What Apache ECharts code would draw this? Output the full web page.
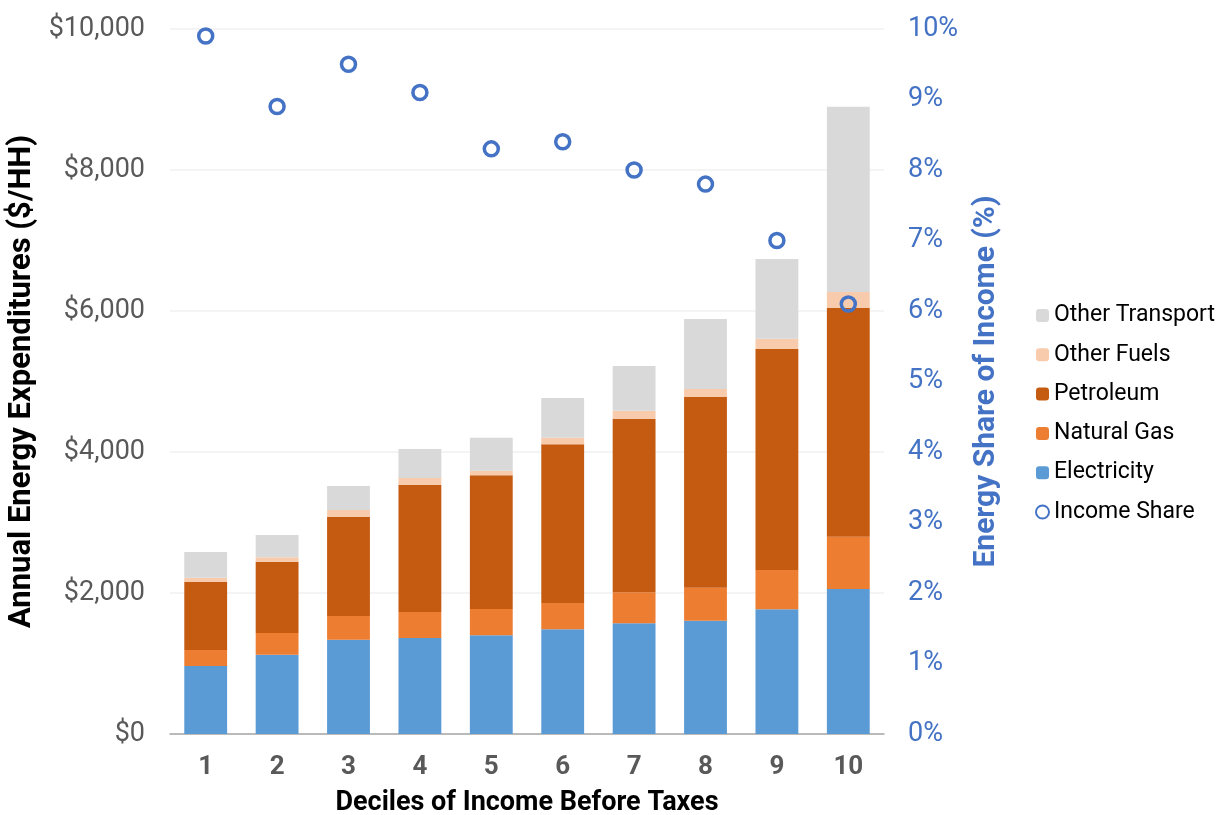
<!DOCTYPE html>
<html><head><meta charset="utf-8">
<script src="https://cdn.jsdelivr.net/npm/echarts@6/dist/echarts.min.js"></script>
<style>html,body{margin:0;padding:0;background:#fff}#c{width:1217px;height:815px}</style>
</head><body><div id="c"></div>
<script>
const deciles = ['1','2','3','4','5','6','7','8','9','10'];
const electricity = [965, 1125, 1338, 1362, 1400, 1485, 1570, 1607, 1769, 2057];
const naturalGas = [226, 308, 336, 368, 373, 373, 440, 468, 557, 742];
const petroleum = [969, 1011, 1404, 1802, 1897, 2251, 2462, 2705, 3135, 3244];
const otherFuels = [57, 62, 99, 99, 65, 94, 114, 114, 146, 227];
const otherTransport = [365, 317, 341, 412, 468, 563, 634, 993, 1131, 2628];
const incomeShare = [9.9, 8.9, 9.5, 9.1, 8.3, 8.4, 8.0, 7.8, 7.0, 6.1];
const leftTicks = [0, 2000, 4000, 6000, 8000, 10000];

const chart = echarts.init(document.getElementById('c'));
const font = 'Roboto, sans-serif';
function bar(name, data, color) {
  return { name, type: 'bar', stack: 'e', data, barCategoryGap: '40%',
    itemStyle: { color }, emphasis: { disabled: true } };
}
chart.setOption({
  animation: false,
  textStyle: { fontFamily: font },
  grid: { left: 170, right: 333, top: 29, bottom: 81, outerBoundsMode: 'none', containLabel: false },
  legend: {
    orient: 'vertical', left: 1035, top: 304, itemGap: 16.3, padding: 0,
    itemWidth: 13, itemHeight: 13,
    textStyle: { fontSize: 23, color: '#000', fontFamily: font },
    data: ['Other Transport', 'Other Fuels', 'Petroleum', 'Natural Gas', 'Electricity', 'Income Share']
  },
  xAxis: {
    type: 'category', data: deciles,
    name: 'Deciles of Income Before Taxes', nameLocation: 'middle', nameGap: 56,
    nameTextStyle: { fontSize: 27, fontWeight: 'bold', color: '#000' },
    axisLine: { lineStyle: { color: '#a6a6a6', width: 1.5 } },
    axisTick: { show: false },
    axisLabel: { fontSize: 26, fontWeight: 'bold', color: '#595959', margin: 20 }
  },
  yAxis: [{
    type: 'value', min: leftTicks[0], max: leftTicks[leftTicks.length - 1], interval: 2000,
    name: 'Annual Energy Expenditures ($/HH)', nameLocation: 'middle', nameGap: 130,
    nameRotate: 90,
    nameTextStyle: { fontSize: 31, fontWeight: 'bold', color: '#000' },
    axisLine: { show: false }, axisTick: { show: false },
    axisLabel: { fontSize: 27, color: '#595959', margin: 25,
      formatter: v => '$' + v.toLocaleString('en-US') },
    splitLine: { lineStyle: { color: '#f0f0f0', width: 1.5 } }
  }, {
    type: 'value', min: 0, max: 10, interval: 1,
    name: 'Energy Share of Income (%)', nameLocation: 'middle', nameGap: 87,
    nameRotate: 90,
    nameTextStyle: { fontSize: 30, fontWeight: 'bold', color: '#4472c4' },
    axisLine: { show: false }, axisTick: { show: false },
    axisLabel: { fontSize: 27, color: '#4472c4', margin: 24, formatter: '{value}%' },
    splitLine: { show: false }
  }],
  series: [
    bar('Electricity', electricity, '#5b9bd5'),
    bar('Natural Gas', naturalGas, '#ed7d31'),
    bar('Petroleum', petroleum, '#c55a11'),
    bar('Other Fuels', otherFuels, '#f8cbad'),
    bar('Other Transport', otherTransport, '#d9d9d9'),
    { name: 'Income Share', type: 'scatter', yAxisIndex: 1, data: incomeShare,
      symbol: 'circle', symbolSize: 14,
      itemStyle: { color: 'rgba(0,0,0,0)', borderColor: '#4472c4', borderWidth: 3.5, opacity: 1 },
      z: 5 }
  ]
});
</script></body></html>
